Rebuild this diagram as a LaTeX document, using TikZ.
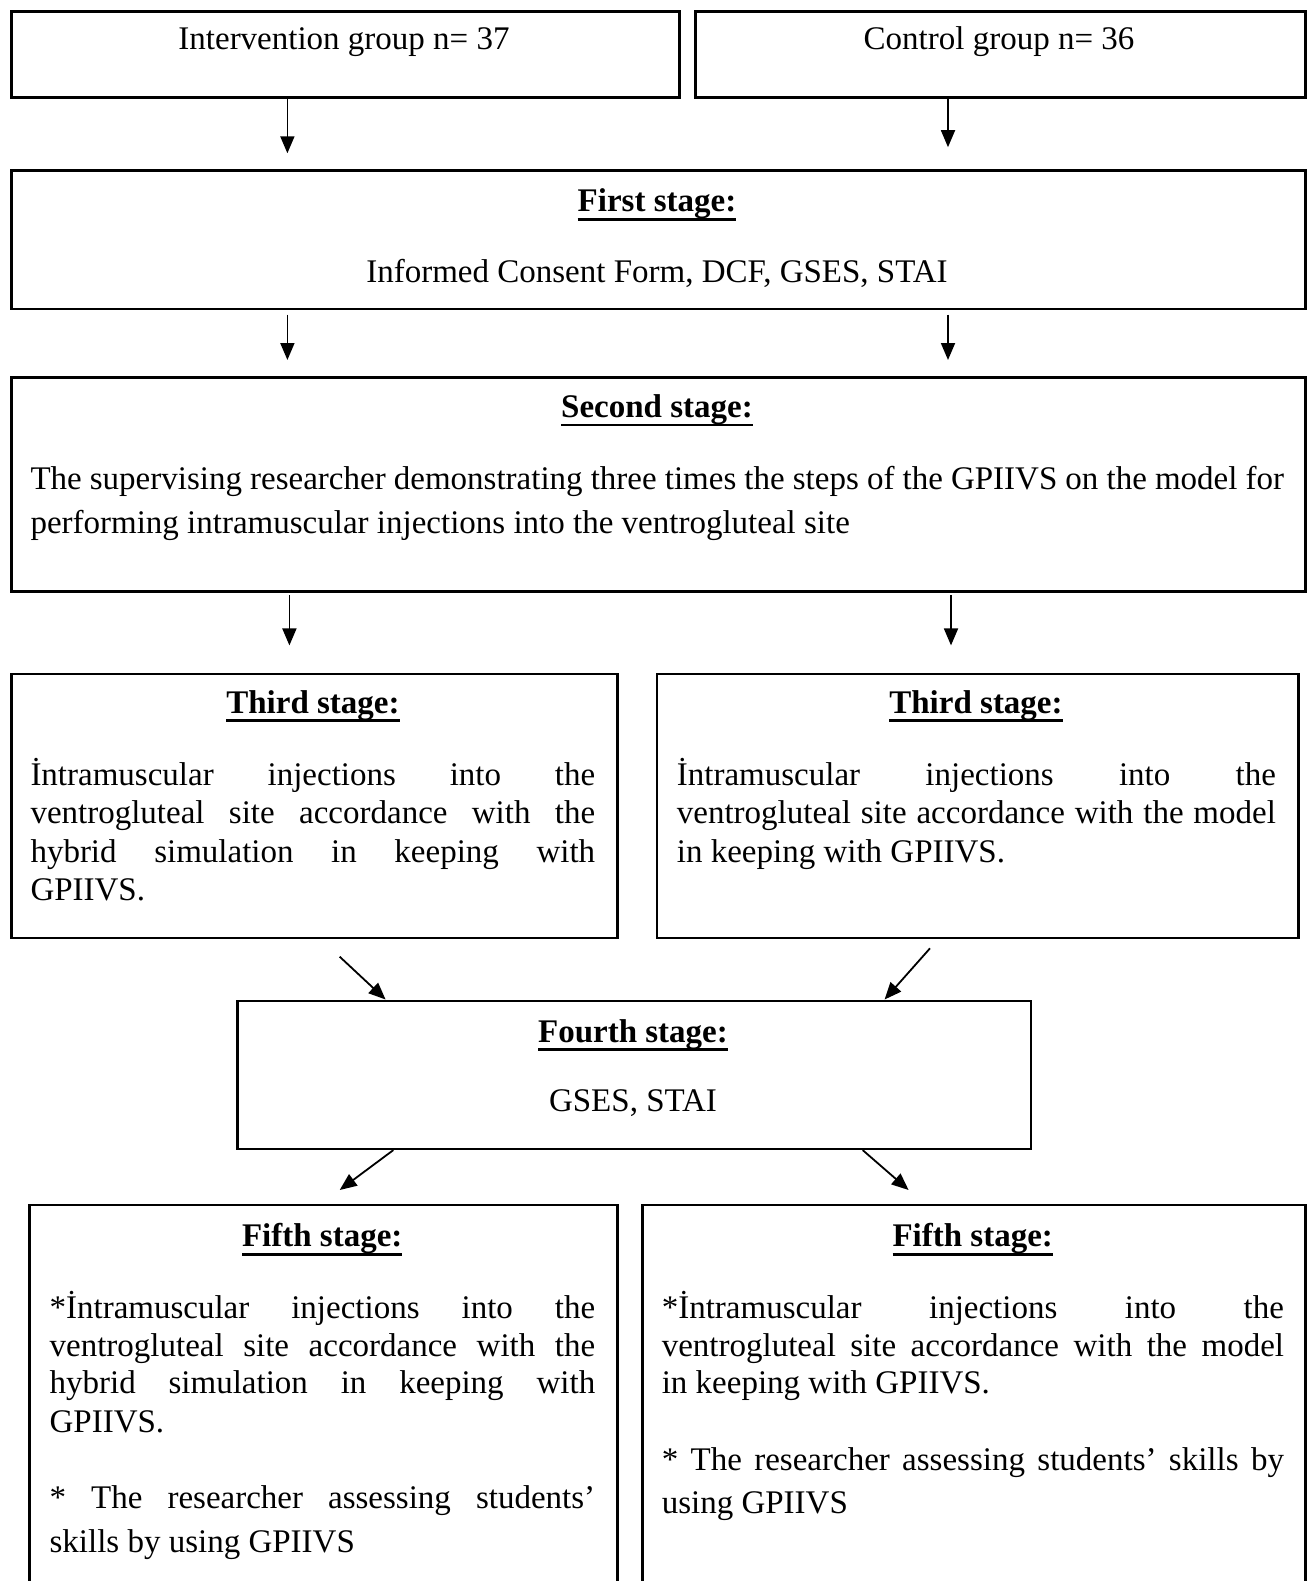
\documentclass[tikz,border=0pt]{standalone}
\usepackage{fontspec}
\setmainfont{Liberation Serif}
\usetikzlibrary{arrows.meta}
\newcommand\stitle[1]{\setbox0=\hbox{\bfseries #1}\rlap{\rule[-9pt]{\wd0}{2.8pt}}\box0}
\newcommand\jline[5]{\node[txt,anchor=base west] (#1) at (#2,#3) {\makebox[#4pt][s]{#5}};}
\newcommand\lline[4]{\node[txt,anchor=base west] (#1) at (#2,#3) {#4};}
\newcommand\cenline[4]{\node[txt,anchor=base] (#1) at (#2,#3) {#4};}
\tikzset{
  txt/.style={inner sep=0pt, font=\fontsize{33pt}{38pt}\selectfont},
  box/.style={draw, line width=2.6pt, anchor=north west, inner sep=0pt},
  arr/.style={line width=1.8pt, -{Triangle[length=17pt,width=14pt]}}
}
\begin{document}
\begin{tikzpicture}[x=1pt,y=-1pt]
\useasboundingbox[fill=white] (0,0) rectangle (1307,1581);
% boxes
\node[box, minimum width=668pt, minimum height=86pt] (ga) at (10,10) {};
\node[box, minimum width=610pt, minimum height=86pt] (gb) at (694,10) {};
\node[box, minimum width=1294pt, minimum height=138.2pt] (first) at (10,169.4) {};
\node[box, minimum width=1294pt, minimum height=213.8pt] (second) at (10,376.2) {};
\node[box, minimum width=606.2pt, minimum height=263.8pt] (thirdl) at (10,672.7) {};
\node[box, minimum width=641.5pt, minimum height=263.8pt] (thirdr) at (655.5,672.7) {};
\node[box, minimum width=793.7pt, minimum height=148pt] (fourth) at (236,999.5) {};
\node[box, minimum width=588pt, minimum height=420pt] (fifthl) at (28.2,1203.5) {};
\node[box, minimum width=662.6pt, minimum height=420pt] (fifthr) at (641.4,1203.5) {};
% texts
\cenline{tga}{344}{49.3}{Intervention group n= 37}
\cenline{tgb}{999}{49.3}{Control group n= 36}
\cenline{t1a}{657}{211.7}{\stitle{First stage:}}
\cenline{t1b}{657}{282.3}{Informed Consent Form, DCF, GSES, STAI}
\cenline{t2a}{657}{417.4}{\stitle{Second stage:}}
\jline{t2b}{30.3}{489}{1253.5}{The supervising researcher demonstrating three times the steps of the GPIIVS on the model for}
\lline{t2c}{30.3}{533.4}{performing intramuscular injections into the ventrogluteal site}
\cenline{t3la}{313}{713}{\stitle{Third stage:}}
\jline{t3lb}{30.3}{785.5}{564.7}{İntramuscular injections into the}
\jline{t3lc}{30.3}{823.9}{564.7}{ventrogluteal site accordance with the}
\jline{t3ld}{30.3}{862.2}{564.7}{hybrid simulation in keeping with}
\lline{t3le}{30.3}{900.5}{GPIIVS.}
\cenline{t3ra}{976}{713}{\stitle{Third stage:}}
\jline{t3rb}{676.7}{785.5}{599}{İntramuscular injections into the}
\jline{t3rc}{676.7}{823.9}{599}{ventrogluteal site accordance with the model}
\lline{t3rd}{676.7}{862.2}{in keeping with GPIIVS.}
\cenline{t4a}{633}{1042}{\stitle{Fourth stage:}}
\cenline{t4b}{633}{1111.5}{GSES, STAI}
\cenline{t5la}{322.2}{1246.5}{\stitle{Fifth stage:}}
\jline{t5lb}{49.4}{1318}{545.6}{*İntramuscular injections into the}
\jline{t5lc}{49.4}{1356.3}{545.6}{ventrogluteal site accordance with the}
\jline{t5ld}{49.4}{1393.7}{545.6}{hybrid simulation in keeping with}
\lline{t5le}{49.4}{1432}{GPIIVS.}
\jline{t5lf}{49.4}{1508.5}{545.6}{* The researcher assessing students’}
\lline{t5lg}{49.4}{1552}{skills by using GPIIVS}
\cenline{t5ra}{972.7}{1246.5}{\stitle{Fifth stage:}}
\jline{t5rb}{661.6}{1318}{622.2}{*İntramuscular injections into the}
\jline{t5rc}{661.6}{1356.3}{622.2}{ventrogluteal site accordance with the model}
\lline{t5rd}{661.6}{1393.7}{in keeping with GPIIVS.}
\jline{t5re}{661.6}{1470.3}{622.2}{* The researcher assessing students’ skills by}
\lline{t5rf}{661.6}{1513.6}{using GPIIVS}
% arrow coordinates
\coordinate (a1s) at (287.4,99);   \coordinate (a1e) at (287.4,153.3);
\coordinate (a2s) at (948,99);     \coordinate (a2e) at (948,147.2);
\coordinate (a3s) at (287.4,314.7); \coordinate (a3e) at (287.4,360);
\coordinate (a4s) at (948,314.7);   \coordinate (a4e) at (948,360);
\coordinate (a5s) at (289.4,595);   \coordinate (a5e) at (289.4,645.4);
\coordinate (a6s) at (951,595);     \coordinate (a6e) at (951,645.4);
\coordinate (d1s) at (339.7,956.7); \coordinate (d1e) at ([xshift=149.6pt]fourth.north west);
\coordinate (d2s) at (930,948.3);   \coordinate (d2e) at ([xshift=648.6pt]fourth.north west);
\coordinate (d3s) at ([xshift=157.3pt]fourth.south west); \coordinate (d3e) at (339.7,1190);
\coordinate (d4s) at ([xshift=626.7pt]fourth.south west); \coordinate (d4e) at (908.6,1190);
\foreach \n in {a1,a2,a3,a4,a5,a6,d1,d2,d3,d4}{\draw[arr] (\n s) -- (\n e);}
\end{tikzpicture}
\end{document}
